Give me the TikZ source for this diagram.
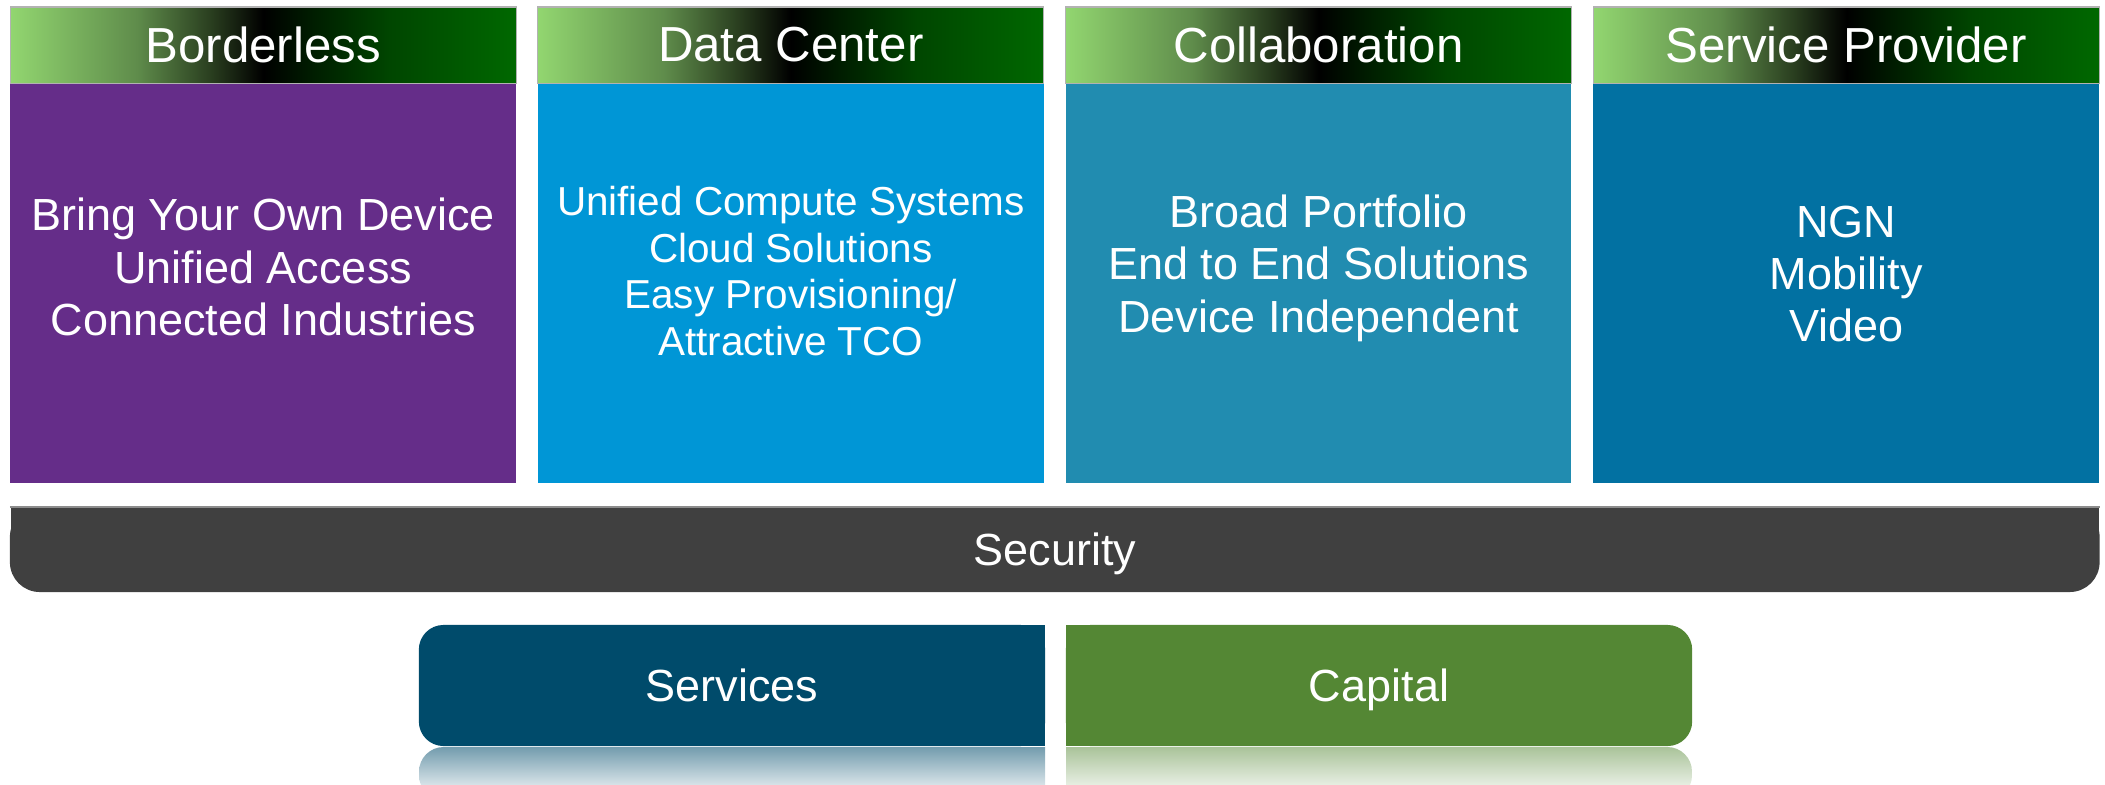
\documentclass[tikz,border=0pt]{standalone}
\usepackage{fontspec}
\setmainfont{Liberation Sans}
\definecolor{hdlight}{RGB}{146,214,112}
\definecolor{hdolive}{RGB}{95,140,75}
\definecolor{hddark}{RGB}{40,60,30}
\definecolor{hdnight}{RGB}{0,30,0}
\definecolor{hdmid}{RGB}{0,70,0}
\definecolor{hdgreen}{RGB}{0,104,0}
\definecolor{bordercol}{RGB}{101,45,137}
\definecolor{dccol}{RGB}{0,150,214}
\definecolor{collabcol}{RGB}{33,140,176}
\definecolor{spcol}{RGB}{2,113,162}
\definecolor{secgray}{RGB}{64,64,64}
\definecolor{srvcol}{RGB}{0,75,107}
\definecolor{capcol}{RGB}{84,135,52}
\pgfdeclarehorizontalshading{hdshade}{100bp}{color(0bp)=(hdlight); color(25bp)=(hdlight); color(37.5bp)=(hdolive); color(45bp)=(hddark); color(50bp)=(black); color(55bp)=(hdnight); color(62.5bp)=(hdmid); color(75bp)=(hdgreen); color(100bp)=(hdgreen)}
\begin{document}
\begin{tikzpicture}[x=0.01cm,y=-0.01cm]
	\tikzstyle{head}=[minimum width=5.055cm,minimum height=0.76cm,inner sep=0,outer sep=0,shading=hdshade,draw=gray!60,line width=0.3pt,text=white,font=\fontsize{14}{16}\selectfont]
	\tikzstyle{body}=[minimum width=5.055cm,minimum height=4cm,inner sep=0,outer sep=0]
	\tikzstyle{txt}=[align=center,text=white,font=\fontsize{12.8}{14.9}\selectfont]
	\tikzstyle{bar}=[minimum height=0.85cm,inner sep=0,outer sep=0,text height=9.2pt,text depth=0pt,text=white,font=\fontsize{12.8}{14.9}\selectfont]
	\tikzstyle{refl}=[rounded corners=7pt]

	\useasboundingbox (0,0) rectangle (2105,784);

	\node [body,fill=bordercol] (b1) at (263.25,283) {};
	\node [body,fill=dccol] (b2) at (790.75,283) {};
	\node [body,fill=collabcol] (b3) at (1318.5,283) {};
	\node [body,fill=spcol] (b4) at (1846.25,283) {};

	\node [head] (h1) at (263.25,45) {Borderless};
	\node [head] (h2) at (790.75,45) {Data Center};
	\node [head] (h3) at (1318.5,45) {Collaboration};
	\node [head] (h4) at (1846.25,45) {Service Provider};

	\node [txt] (t1) at (263.25,267) {Bring Your Own Device\\Unified Access\\Connected Industries};
	\node [txt,font=\fontsize{11.5}{13.2}\selectfont] (t2) at (790.75,271) {Unified Compute Systems\\Cloud Solutions\\Easy Provisioning/\\Attractive TCO};
	\node [txt] (t3) at (1318.5,268) {Broad Portfolio\\End to End Solutions\\Device Independent};
	\node [txt] (t4) at (1846.25,274) {NGN\\Mobility\\Video};

	% square top corners under the rounded bar
	\fill [secgray] (10.5,507) rectangle (2099,550);
	\node [bar,fill=secgray,rounded corners=8.5pt,minimum width=20.885cm] (sec) at (1054.75,549.5) {Security};
	\draw [gray!90,line width=0.4pt] (sec.north west) -- (sec.north east);

	\fill [srvcol] (732,625) rectangle (1045,746);
	\node [bar,fill=srvcol,rounded corners=7pt,minimum width=6.26cm,minimum height=1.21cm] (srv) at (732,685.5) {Services};
	\fill [capcol] (1066,625) rectangle (1379,746);
	\node [bar,fill=capcol,rounded corners=7pt,minimum width=6.26cm,minimum height=1.21cm] (cap) at (1379,685.5) {Capital};

	\begin{scope}
		\clip (419,747) rectangle (1045,784);
		\shade [refl,top color=srvcol!55,bottom color=white] (419,747) rectangle (1100,800);
	\end{scope}
	\begin{scope}
		\clip (1066,747) rectangle (1692,784);
		\shade [refl,top color=capcol!50,bottom color=white] (1010,747) rectangle (1692,800);
	\end{scope}
\end{tikzpicture}
\end{document}
